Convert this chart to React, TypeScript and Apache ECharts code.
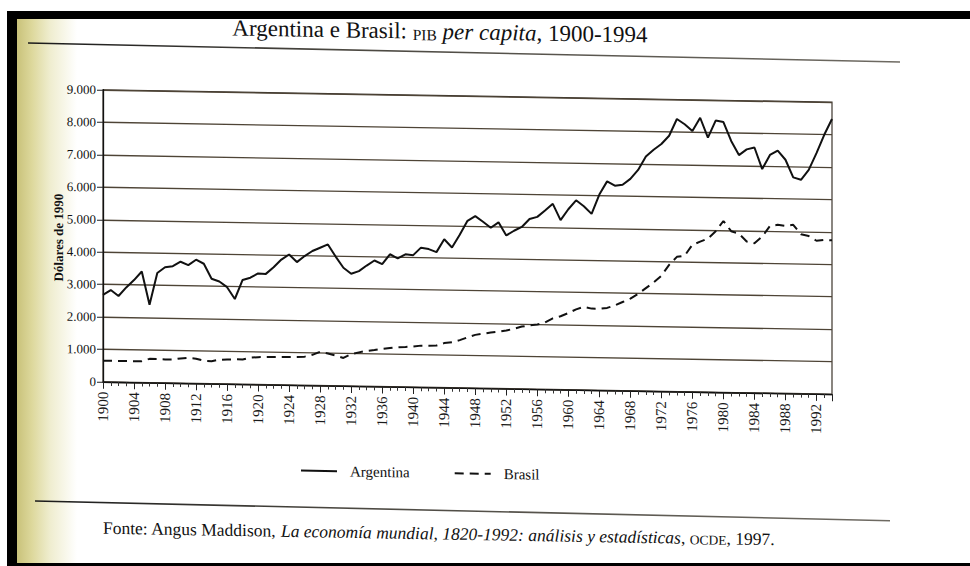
import { useEffect, useRef } from 'react';
import * as echarts from 'echarts';

const startYear = 1900;
const endYear = 1994;

const argentina = [
  2680, 2830, 2650, 2920, 3150, 3420, 2400, 3380, 3560, 3600,
  3740, 3640, 3810, 3690, 3230, 3150, 2980, 2620, 3210, 3285,
  3420, 3410, 3620, 3860, 4020, 3790, 3980, 4140, 4245, 4350,
  3980, 3640, 3460, 3545, 3720, 3880, 3770, 4080, 3960, 4085,
  4065, 4300, 4260, 4170, 4570, 4320, 4720, 5150, 5300, 5130,
  4950, 5120, 4720, 4870, 4990, 5240, 5310, 5510, 5720, 5220,
  5560, 5840, 5660, 5430, 6030, 6440, 6310, 6345, 6530, 6810,
  7230, 7440, 7620, 7880, 8400, 8240, 8040, 8450, 7840, 8370,
  8330, 7750, 7320, 7500, 7560, 6900, 7340, 7480, 7200, 6660,
  6590, 6900, 7420, 7990, 8480,
];

const brasil = [
  650, 650, 650, 650, 650, 655, 730, 730, 720, 720,
  760, 780, 760, 700, 690, 740, 750, 760, 760, 820,
  840, 845, 850, 855, 860, 865, 880, 940, 1040, 990,
  930, 860, 980, 1040, 1090, 1120, 1160, 1190, 1220, 1230,
  1250, 1280, 1280, 1290, 1370, 1400, 1470, 1560, 1640, 1680,
  1720, 1750, 1790, 1850, 1920, 1960, 1990, 2060, 2190, 2260,
  2360, 2480, 2560, 2510, 2510, 2540, 2620, 2730, 2840, 2990,
  3170, 3350, 3560, 3900, 4150, 4190, 4530, 4630, 4730, 4960,
  5280, 4970, 4900, 4660, 4610, 4820, 5150, 5190, 5160, 5200,
  4910, 4860, 4720, 4750, 4740,
];

const seriesNames = ['Argentina', 'Brasil'];
const titleParts = ['Argentina e Brasil: ', 'PIB', 'per capita', ', 1900-1994'];
const yAxisName = 'Dólares de 1990';
const sourceParts = [
  'Fonte: Angus Maddison, ',
  'La economía mundial, 1820-1992: análisis y estadísticas',
  ', ',
  'OCDE',
  ', 1997.',
];

const SERIF = 'Liberation Serif';

export default function App() {
  const ref = useRef<HTMLDivElement>(null);

  useEffect(() => {
    if (!ref.current) return;
    const chart = echarts.init(ref.current, null, { renderer: 'svg' });

    const toPairs = (vals: number[]) => vals.map((v, i) => [startYear + i, v]);

    const ruleGradient = new echarts.graphic.LinearGradient(0, 0, 1, 0, [
      { offset: 0, color: '#1a1a1a' },
      { offset: 0.35, color: '#4a4740' },
      { offset: 1, color: '#6e6a62' },
    ]);

    chart.setOption({
      animation: false,
      backgroundColor: 'transparent',
      textStyle: { fontFamily: SERIF },
      grid: {
        left: 103,
        top: 88,
        width: 729,
        height: 292,
        show: true,
        borderColor: '#3c352c',
        borderWidth: 1.2,
        backgroundColor: 'transparent',
      },
      legend: {
        data: seriesNames,
        left: 295,
        top: 453,
        itemWidth: 36,
        itemHeight: 14,
        itemGap: 44,
        itemStyle: { color: 'rgba(0,0,0,0)', borderColor: 'rgba(0,0,0,0)', borderWidth: 0 },
        textStyle: {
          fontFamily: SERIF,
          fontSize: 15,
          color: '#111',
          padding: [0, 0, 0, 8],
        },
      },
      xAxis: {
        type: 'value',
        min: startYear,
        max: endYear,
        interval: 4,
        axisLine: { show: true, lineStyle: { color: '#111', width: 1.3 } },
        axisTick: { show: true, length: 7, lineStyle: { color: '#222', width: 1 } },
        minorTick: { show: true, splitNumber: 4, length: 4, lineStyle: { color: '#333', width: 1 } },
        splitLine: { show: false },
        axisLabel: {
          rotate: 90,
          margin: 10,
          fontFamily: SERIF,
          fontSize: 15,
          color: '#1a1a1a',
          formatter: (v: number) => (v % 4 === 0 ? String(v) : ''),
        },
      },
      yAxis: {
        type: 'value',
        min: 0,
        max: 9000,
        interval: 1000,
        axisLine: { show: true, lineStyle: { color: '#111', width: 1.3 } },
        axisTick: { show: true, length: 6, lineStyle: { color: '#222', width: 1 } },
        splitLine: { show: true, lineStyle: { color: '#4e4436', width: 1.3 } },
        axisLabel: {
          margin: 7,
          fontFamily: SERIF,
          fontSize: 13,
          color: '#111',
          formatter: (v: number) => (v === 0 ? '0' : `${v / 1000}.000`),
        },
      },
      series: [
        {
          name: seriesNames[0],
          type: 'line',
          data: toPairs(argentina),
          symbol: 'none',
          lineStyle: { color: '#111', width: 2, type: 'solid' },
          itemStyle: { color: '#111' },
        },
        {
          name: seriesNames[1],
          type: 'line',
          data: toPairs(brasil),
          symbol: 'none',
          lineStyle: { color: '#111', width: 2, type: [9, 6] },
          itemStyle: { color: '#111' },
        },
      ],
      graphic: [
        {
          type: 'text',
          x: 440,
          y: 24,
          style: {
            text: `{a|${titleParts[0]}}{b|${titleParts[1]}}{a| }{c|${titleParts[2]}}{a|${titleParts[3]}}`,
            align: 'center',
            verticalAlign: 'middle',
            fill: '#111',
            rich: {
              a: { fontFamily: SERIF, fontSize: 23, fill: '#111', verticalAlign: 'bottom' },
              b: { fontFamily: SERIF, fontSize: 15.5, fill: '#111', verticalAlign: 'bottom' },
              c: { fontFamily: SERIF, fontSize: 23, fontStyle: 'italic', fill: '#111', verticalAlign: 'bottom' },
            },
          },
        },
        {
          type: 'line',
          shape: { x1: 28, y1: 42.5, x2: 900, y2: 46.7 },
          style: { stroke: ruleGradient, lineWidth: 1.6 },
        },
        {
          type: 'text',
          x: 59,
          y: 236.5,
          rotation: Math.PI / 2,
          style: {
            text: yAxisName,
            align: 'center',
            verticalAlign: 'middle',
            fontFamily: SERIF,
            fontSize: 13,
            fontWeight: 'bold',
            fill: '#111',
          },
        },
        {
          type: 'line',
          shape: { x1: 35, y1: 500.4, x2: 890, y2: 505.6 },
          style: { stroke: ruleGradient, lineWidth: 1.6 },
        },
        {
          type: 'text',
          x: 103,
          y: 526,
          style: {
            text: `{a|${sourceParts[0]}}{i|${sourceParts[1]}}{a|${sourceParts[2]}}{s|${sourceParts[3]}}{a|${sourceParts[4]}}`,
            align: 'left',
            verticalAlign: 'middle',
            fill: '#111',
            rich: {
              a: { fontFamily: SERIF, fontSize: 17.5, fill: '#111', verticalAlign: 'bottom' },
              i: { fontFamily: SERIF, fontSize: 17.5, fontStyle: 'italic', fill: '#111', verticalAlign: 'bottom' },
              s: { fontFamily: SERIF, fontSize: 13.5, fill: '#111', verticalAlign: 'bottom' },
            },
          },
        },
      ],
    });

    return () => chart.dispose();
  }, []);

  return (
    <div
      style={{
        position: 'fixed',
        left: 0,
        top: 0,
        width: 970,
        height: 566,
        background: '#ffffff',
        overflow: 'hidden',
      }}
    >
      <div
        style={{
          position: 'absolute',
          left: 17,
          top: 19,
          width: 60,
          height: 544,
          background:
            'linear-gradient(to right, #c9c27a 0%, #ddd89c 25%, #efedcf 55%, rgba(255,255,255,0) 100%)',
        }}
      />
      <div
        ref={ref}
        style={{
          position: 'absolute',
          left: 0,
          top: 0,
          width: 970,
          height: 566,
          transform: 'skewY(0.974deg)',
          transformOrigin: '0 0',
        }}
      />
      <div style={{ position: 'absolute', left: 7, top: 11, width: 963, height: 8, background: '#000' }} />
      <div style={{ position: 'absolute', left: 7, top: 11, width: 10, height: 555, background: '#000' }} />
      <div style={{ position: 'absolute', left: 7, top: 563, width: 963, height: 3, background: '#000' }} />
    </div>
  );
}
